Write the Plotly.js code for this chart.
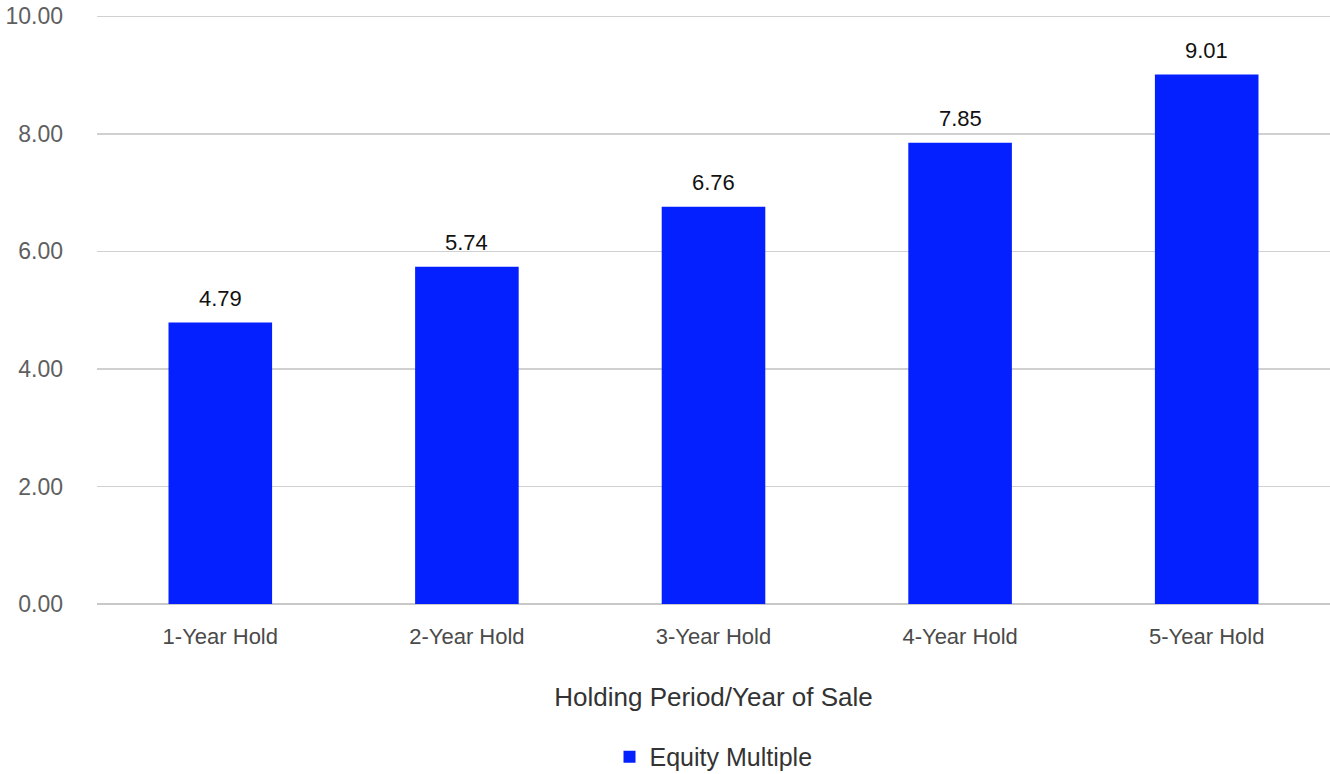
<!DOCTYPE html>
<html>
<head>
<meta charset="utf-8">
<script src="https://cdn.plot.ly/plotly-3.0.1.min.js"></script>
<style>html,body{margin:0;padding:0;background:#fff;}#chart{width:1330px;height:774px;}</style>
</head>
<body>
<div id="chart"></div>
<script>
const categories = ["1-Year Hold", "2-Year Hold", "3-Year Hold", "4-Year Hold", "5-Year Hold"];
const equityMultiple = [4.79, 5.74, 6.76, 7.85, 9.01];
const valueLabels = ["4.79", "5.74", "6.76", "7.85", "9.01"];
const yTickVals = [0, 2, 4, 6, 8, 10];
const yTickText = ["0.00", "2.00", "4.00", "6.00", "8.00", "10.00"];

const FONT = "Liberation Sans, Arial, Helvetica, sans-serif";

const trace = {
  type: "bar",
  x: categories,
  y: equityMultiple,
  name: "Equity Multiple",
  marker: {color: "#0520ff"},
  hoverinfo: "none"
};

const annotations = categories.map((c, i) => ({
  x: c, y: equityMultiple[i], xref: "x", yref: "y",
  text: valueLabels[i], showarrow: false,
  yanchor: "bottom", yshift: 10,
  font: {family: FONT, size: 22, color: "#111"}
}));

const layout = {
  width: 1330, height: 774,
  margin: {l: 97, r: 0, t: 14, b: 170},
  paper_bgcolor: "#fff", plot_bgcolor: "#fff",
  bargap: 0.58,
  showlegend: true,
  legend: {
    orientation: "h", x: 0.5, xanchor: "center",
    yref: "container", y: 0.022, yanchor: "middle",
    font: {family: FONT, size: 25, color: "#333"}
  },
  xaxis: {
    type: "category", automargin: false,
    tickfont: {family: FONT, size: 22, color: "#4a4a4a"},
    ticks: "", showgrid: false, zeroline: false, showline: false,
    ticklabelstandoff: 17,
    title: {text: "Holding Period/Year of Sale", font: {family: FONT, size: 26, color: "#333"}, standoff: 39}
  },
  yaxis: {
    range: [0, 10.04], automargin: false,
    tickvals: yTickVals, ticktext: yTickText,
    tickfont: {family: FONT, size: 23, color: "#5f5f5f"},
    gridcolor: "#d0d0d0", gridwidth: 1.5,
    zeroline: true, zerolinecolor: "#c8c8c8", zerolinewidth: 2,
    showline: false, ticks: "",
    ticklabelstandoff: 33
  },
  annotations: annotations
};

Plotly.newPlot("chart", [trace], layout, {displayModeBar: false, staticPlot: true});
</script>
</body>
</html>
